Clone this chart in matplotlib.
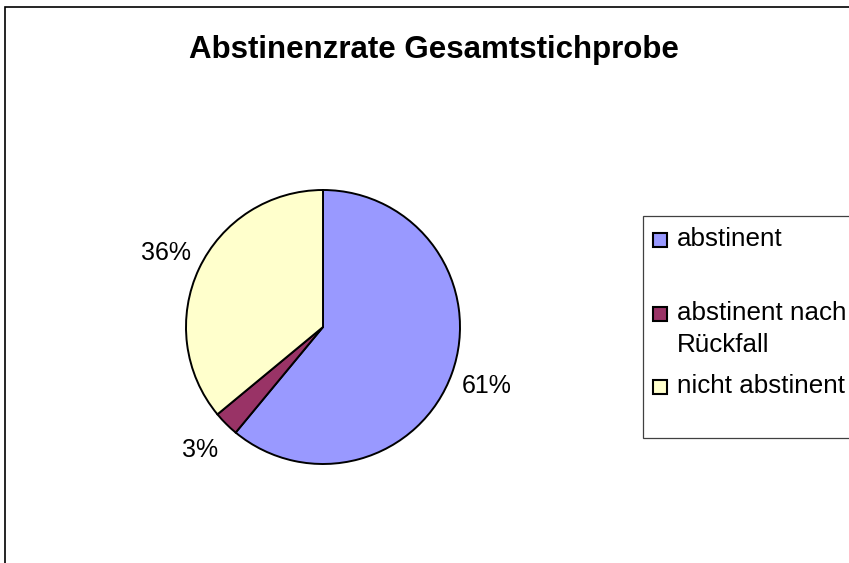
import matplotlib
matplotlib.use("Agg")
import matplotlib.pyplot as plt
from matplotlib.patches import Rectangle

plt.rcParams['font.family'] = ['Liberation Sans', 'DejaVu Sans']

# data
labels = ["abstinent", "abstinent nach\nRückfall", "nicht abstinent"]
values = [61, 3, 36]
colors = ["#9999FF", "#993366", "#FFFFCC"]
title = "Abstinenzrate Gesamtstichprobe"

W, H = 849, 563


def fx(x):
    return x / W


def fy(y):
    return 1 - y / H


fig = plt.figure(figsize=(W / 100, H / 100), dpi=100)
fig.patch.set_facecolor("white")

# outer chart frame (right/bottom edges are cut off in the original)
fig.add_artist(Rectangle((fx(5), -0.2), 2, fy(7) + 0.2, transform=fig.transFigure,
                         fill=False, edgecolor="black", lw=1.2))

fig.text(fx(433.5), fy(58), title, ha="center", va="baseline",
         fontsize=22.5, fontweight="bold")

# pie: centre (323, 327) px, radius 137 px
r = 137
cx, cy = 323, 327
ext = 1.3
ax = fig.add_axes([fx(cx - r * ext), fy(cy + r * ext), 2 * r * ext / W, 2 * r * ext / H])
wedges, texts, autotexts = ax.pie(values, colors=colors, startangle=90, counterclock=False,
                                  autopct="%1.0f%%", pctdistance=1.27,
                                  wedgeprops=dict(edgecolor="black", linewidth=1.4),
                                  textprops=dict(fontsize=18, color="black"))
ax.set_xlim(-ext, ext)
ax.set_ylim(-ext, ext)
ax.set_aspect("equal")
ax.axis("off")

# legend, laid out like the Excel one (entries evenly spaced from their first line)
fig.add_artist(Rectangle((fx(643), fy(438)), 1, (438 - 216) / H, transform=fig.transFigure,
                         facecolor="white", edgecolor="#404040", lw=0.9, zorder=1))
first_base = 246
step = 73.5
line_h = 33
for i, (lab, col) in enumerate(zip(labels, colors)):
    base = first_base + i * step
    fig.add_artist(Rectangle((fx(653), fy(base + 1)), 14 / W, 14 / H, transform=fig.transFigure,
                             facecolor=col, edgecolor="black", lw=1.5, zorder=2))
    for j, line in enumerate(lab.split("\n")):
        fig.text(fx(677), fy(base + j * line_h), line, ha="left", va="baseline",
                 fontsize=18.7, zorder=3)

fig.savefig("out.png", dpi=100)
